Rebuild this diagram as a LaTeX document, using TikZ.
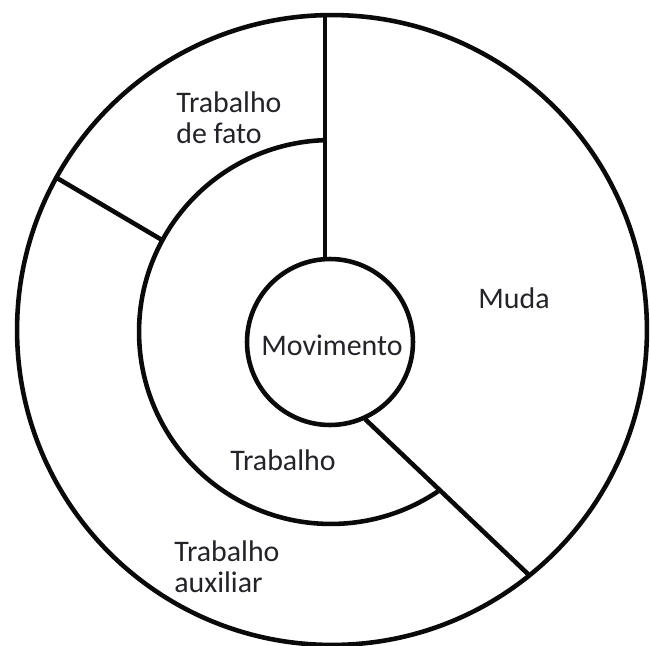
\documentclass[tikz,border=0pt]{standalone}
\usepackage{fontspec}
\setmainfont{Carlito}
\definecolor{inkc}{RGB}{10,10,10}
\definecolor{textc}{RGB}{35,35,40}
\begin{document}
\begin{tikzpicture}[x=0.02cm,y=-0.02cm,
  ring/.style={draw=inkc,line width=2.6pt},
  sep/.style={draw=inkc,line width=2.6pt},
  lbl/.style={text=textc,font=\fontsize{17}{17.6}\selectfont,inner sep=0pt,align=left}]
\path[use as bounding box] (0,0) rectangle (650,646);
\coordinate (co) at (332,330);
\coordinate (ci) at (331,332);
\coordinate (cs) at (330,342);
% circles
\node[ring,circle,minimum size=12.6cm,inner sep=0pt] (outer) at (co) {};
\draw[ring] (ci) ++(91.8:3.84cm) coordinate (itop)
  arc[start angle=91.8,end angle=303.9,radius=3.84cm] coordinate (iend);
\node[ring,circle,minimum size=3.32cm,inner sep=0pt] (mov) at (cs) {};
% separators
\coordinate (v1) at (325,15);
\coordinate (v2) at (325,259);
\coordinate (u1) at (57,178);
\coordinate (u2) at (162,240);
\coordinate (d1) at (365,419);
\coordinate (d2) at (529.5,575.5);
\draw[sep] (v1) -- (v2);
\draw[sep] (u1) -- (u2);
\draw[sep] (d1) -- (d2);
% labels
\node[lbl,anchor=west] (tf) at (176,118) {Trabalho\\de fato};
\node[lbl] (muda) at (514,298) {Muda};
\node[lbl] (movt) at (332,345) {Movimento};
\node[lbl] (trab) at (283,460) {Trabalho};
\node[lbl,anchor=west] (ta) at (174,567) {Trabalho\\auxiliar};
\end{tikzpicture}
\end{document}
